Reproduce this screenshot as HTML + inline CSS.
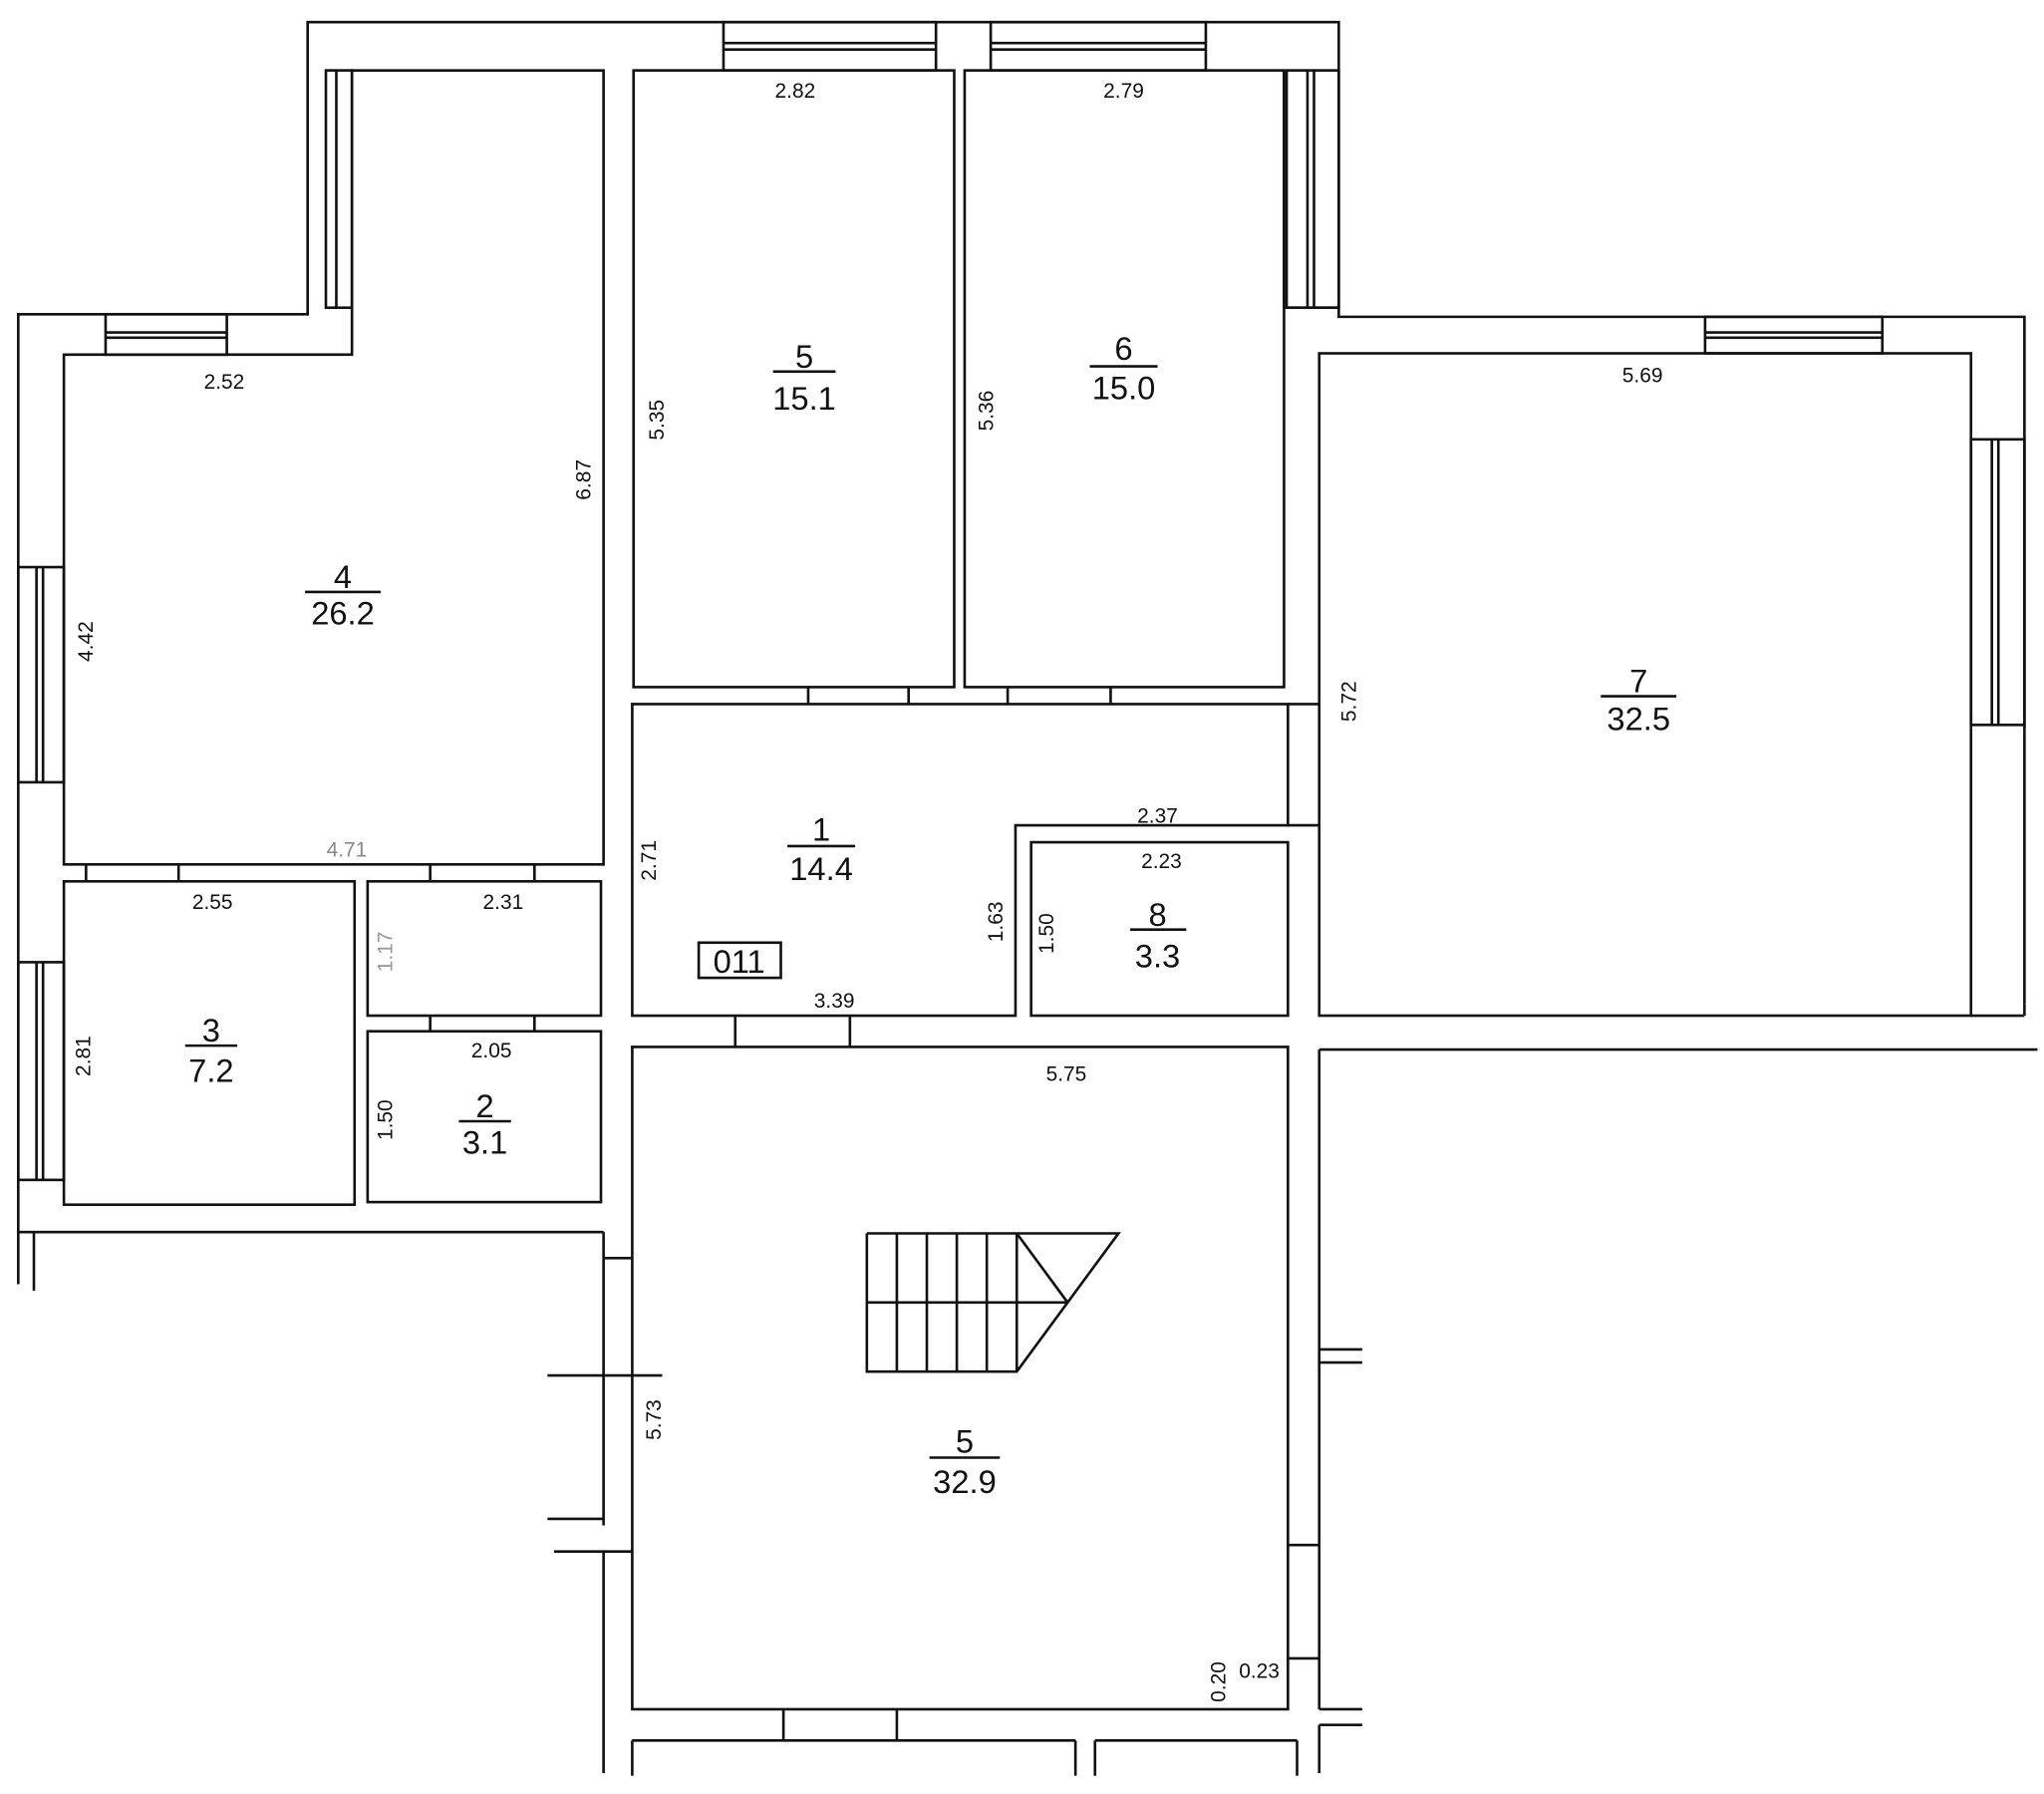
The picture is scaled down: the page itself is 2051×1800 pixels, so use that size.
<!DOCTYPE html>
<html><head><meta charset="utf-8"><style>
html,body{margin:0;padding:0;background:#fff}
svg{display:block}
text{font-family:"Liberation Sans",sans-serif;fill:#111}
</style></head><body>
<svg width="2051" height="1800" viewBox="0 0 1568 1376" preserveAspectRatio="none" xmlns="http://www.w3.org/2000/svg">
<g fill="none" stroke="#111" stroke-width="2">
<polyline points="14,985 14,241 236,241 236,17 1027,17 1027,243 1553,243 1553,770"/>
<line x1="26" y1="945" x2="26" y2="990"/>
<line x1="14" y1="945" x2="463" y2="945"/>
<polyline points="463,945 463,1170"/>
<line x1="420" y1="1055" x2="508" y2="1055"/>
<line x1="420" y1="1165" x2="463" y2="1165"/>
<polyline points="425,1190 463,1190 463,1360"/>
<line x1="463" y1="965" x2="485" y2="965"/>
<line x1="463" y1="1190" x2="485" y2="1190"/>
<polygon points="49,272 270,272 270,54 463,54 463,663 49,663"/>
<rect x="486" y="54" width="246" height="473"/>
<rect x="740" y="54" width="245" height="473"/>
<rect x="1012" y="271" width="500" height="508"/>
<polygon points="485,540 988,540 988,633 779,633 779,779 485,779"/>
<rect x="791" y="646" width="197" height="133"/>
<rect x="49" y="676" width="223" height="248"/>
<rect x="282" y="676" width="179" height="103"/>
<rect x="282" y="791" width="179" height="131"/>
<rect x="485" y="803" width="503" height="508"/>
<line x1="1012" y1="805" x2="1563" y2="805"/>
<line x1="1012" y1="805" x2="1012" y2="1311"/>
<line x1="1012" y1="1311" x2="1045" y2="1311"/>
<line x1="1012" y1="1035" x2="1045" y2="1035"/>
<line x1="1012" y1="1045" x2="1045" y2="1045"/>
<line x1="988" y1="1185" x2="1012" y2="1185"/>
<line x1="988" y1="1272" x2="1012" y2="1272"/>
<line x1="1012" y1="1323" x2="1045" y2="1323"/>
<line x1="1012" y1="1323" x2="1012" y2="1360"/>
<line x1="985" y1="236" x2="1027" y2="236"/>
<line x1="985" y1="54" x2="985" y2="236"/>
<line x1="1512" y1="779" x2="1553" y2="779"/>
<line x1="1553" y1="779" x2="1553" y2="770"/>
<line x1="988" y1="540" x2="1012" y2="540"/>
<line x1="988" y1="633" x2="1012" y2="633"/>
<line x1="564" y1="779" x2="564" y2="803"/>
<line x1="652" y1="779" x2="652" y2="803"/>
<line x1="485" y1="1335" x2="825" y2="1335"/>
<line x1="485" y1="1335" x2="485" y2="1362"/>
<line x1="825" y1="1335" x2="825" y2="1362"/>
<line x1="840" y1="1335" x2="995" y2="1335"/>
<line x1="840" y1="1335" x2="840" y2="1362"/>
<line x1="995" y1="1335" x2="995" y2="1362"/>
<line x1="601" y1="1311" x2="601" y2="1335"/>
<line x1="688" y1="1311" x2="688" y2="1335"/>
<line x1="620" y1="527" x2="620" y2="540"/><line x1="697" y1="527" x2="697" y2="540"/>
<line x1="773" y1="527" x2="773" y2="540"/><line x1="852" y1="527" x2="852" y2="540"/>
<line x1="66" y1="663" x2="66" y2="676"/><line x1="137" y1="663" x2="137" y2="676"/>
<line x1="330" y1="663" x2="330" y2="676"/><line x1="410" y1="663" x2="410" y2="676"/>
<line x1="330" y1="779" x2="330" y2="791"/><line x1="410" y1="779" x2="410" y2="791"/>
<rect x="555" y="17" width="163" height="37"/><line x1="555" y1="33" x2="718" y2="33"/><line x1="555" y1="38" x2="718" y2="38"/>
<rect x="760" y="17" width="165" height="37"/><line x1="760" y1="33" x2="925" y2="33"/><line x1="760" y1="38" x2="925" y2="38"/>
<rect x="250" y="54" width="20" height="182"/><line x1="258" y1="54" x2="258" y2="236"/>
<rect x="987" y="54" width="40" height="182"/><line x1="1003" y1="54" x2="1003" y2="236"/><line x1="1008" y1="54" x2="1008" y2="236"/>
<rect x="81" y="241" width="93" height="31"/><line x1="81" y1="255" x2="174" y2="255"/><line x1="81" y1="259" x2="174" y2="259"/>
<rect x="14" y="435" width="35" height="165"/><line x1="28" y1="435" x2="28" y2="600"/><line x1="33" y1="435" x2="33" y2="600"/>
<rect x="14" y="738" width="35" height="167"/><line x1="28" y1="738" x2="28" y2="905"/><line x1="33" y1="738" x2="33" y2="905"/>
<rect x="1308" y="243" width="136" height="28"/><line x1="1308" y1="255" x2="1444" y2="255"/><line x1="1308" y1="259" x2="1444" y2="259"/>
<rect x="1512" y="337" width="41" height="219"/><line x1="1528" y1="337" x2="1528" y2="556"/><line x1="1533" y1="337" x2="1533" y2="556"/>
<polyline points="665,946 858,946 780,1052 665,1052 665,946"/>
<line x1="665" y1="999" x2="819" y2="999"/>
<line x1="688" y1="946" x2="688" y2="1052"/><line x1="711" y1="946" x2="711" y2="1052"/>
<line x1="734" y1="946" x2="734" y2="1052"/><line x1="757" y1="946" x2="757" y2="1052"/>
<line x1="780" y1="946" x2="780" y2="1052"/>
<line x1="780" y1="946" x2="819" y2="999"/>
<rect x="536" y="723" width="63" height="27"/>
<line x1="234" y1="454" x2="292" y2="454"/>
<line x1="593" y1="285" x2="641" y2="285"/>
<line x1="836" y1="281" x2="888" y2="281"/>
<line x1="1228" y1="534" x2="1286" y2="534"/>
<line x1="604" y1="649" x2="656" y2="649"/>
<line x1="867" y1="713" x2="910" y2="713"/>
<line x1="142" y1="802" x2="182" y2="802"/>
<line x1="352" y1="860" x2="392" y2="860"/>
<line x1="713" y1="1118" x2="767" y2="1118"/>
</g>
<g font-size="25" text-anchor="middle">
<text x="263" y="451">4</text><text x="263" y="479">26.2</text>
<text x="617" y="282">5</text><text x="617" y="314">15.1</text>
<text x="862" y="276">6</text><text x="862" y="306">15.0</text>
<text x="1257" y="531">7</text><text x="1257" y="560">32.5</text>
<text x="630" y="645">1</text><text x="630" y="675">14.4</text>
<text x="888" y="710">8</text><text x="888" y="742">3.3</text>
<text x="162" y="799">3</text><text x="162" y="830">7.2</text>
<text x="372" y="857">2</text><text x="372" y="885">3.1</text>
<text x="740" y="1114">5</text><text x="740" y="1145">32.9</text>
<text x="567" y="746">011</text>
</g>
<g font-size="16" text-anchor="middle">
<text x="610" y="75">2.82</text><text x="862" y="75">2.79</text>
<text x="172" y="298">2.52</text><text x="1260" y="293">5.69</text>
<text x="266" y="657" style="fill:#888">4.71</text>
<text x="163" y="697">2.55</text><text x="386" y="697">2.31</text>
<text x="888" y="631">2.37</text><text x="891" y="666">2.23</text>
<text x="640" y="773">3.39</text><text x="377" y="811">2.05</text>
<text x="818" y="829">5.75</text><text x="966" y="1287">0.23</text>
<text transform="translate(509,322) rotate(-90)">5.35</text>
<text transform="translate(762,315) rotate(-90)">5.36</text>
<text transform="translate(453,368) rotate(-90)">6.87</text>
<text transform="translate(71,492) rotate(-90)">4.42</text>
<text transform="translate(1040,538) rotate(-90)">5.72</text>
<text transform="translate(503,660) rotate(-90)">2.71</text>
<text transform="translate(301,730) rotate(-90)" style="fill:#999">1.17</text>
<text transform="translate(769,707) rotate(-90)">1.63</text>
<text transform="translate(808,716) rotate(-90)">1.50</text>
<text transform="translate(69,810) rotate(-90)">2.81</text>
<text transform="translate(301,859) rotate(-90)">1.50</text>
<text transform="translate(507,1089) rotate(-90)">5.73</text>
<text transform="translate(940,1290) rotate(-90)">0.20</text>
</g>
</svg>
</body></html>
